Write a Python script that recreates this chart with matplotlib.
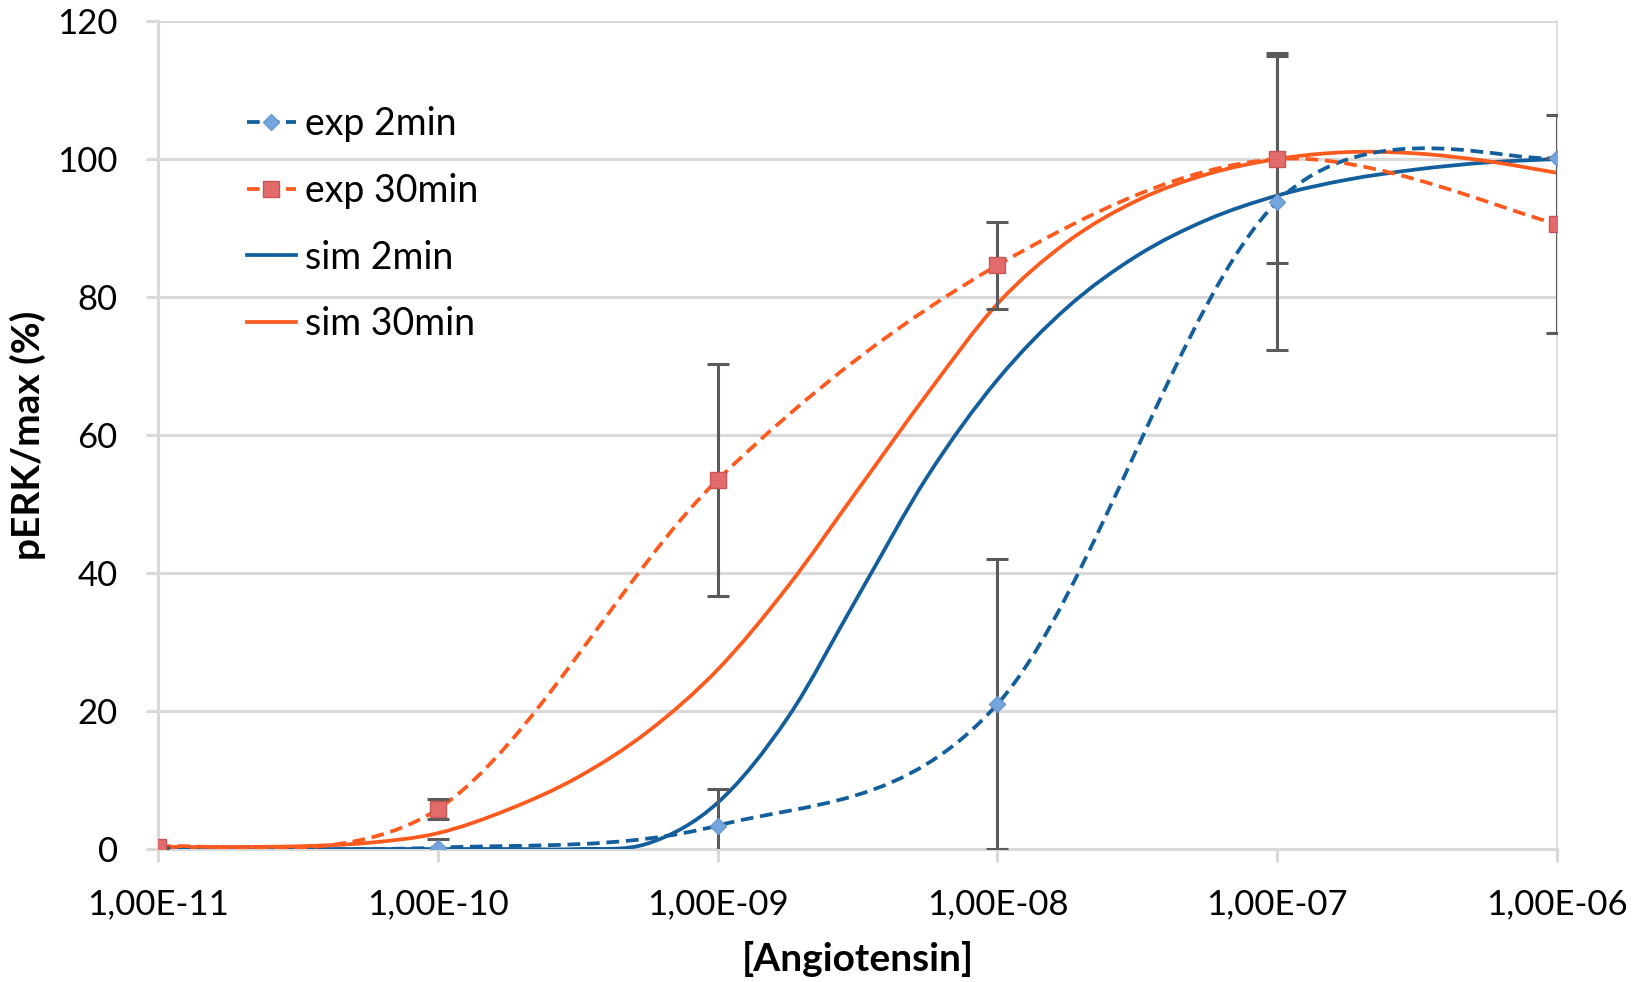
import numpy as np
import matplotlib
matplotlib.use('Agg')
import matplotlib.pyplot as plt
from matplotlib.path import Path
from matplotlib.patches import PathPatch
from matplotlib.lines import Line2D

#-----------------------
# Data
#-----------------------

conc = [1e-11, 1e-10, 1e-9, 1e-8, 1e-7, 1e-6]   # [Angiotensin]
xticklabels = ['1,00E-11', '1,00E-10', '1,00E-09', '1,00E-08', '1,00E-07', '1,00E-06']

exp2  = [0.2, 0.2, 3.4, 21.0, 93.8, 100.2]
exp2_err = [0.0, 1.2, 5.3, 21.0, 21.5, 0.0]
exp30 = [0.3, 5.8, 53.5, 84.6, 100.0, 90.6]
exp30_err = [0.0, 1.4, 16.8, 6.3, 15.0, 15.8]

# simulation, quarter decades 1e-11 ... 1e-6
sim_logx = [-11, -10.75, -10.5, -10.25, -10, -9.75, -9.5, -9.25, -9, -8.75, -8.5,
            -8.25, -8, -7.75, -7.5, -7.25, -7, -6.75, -6.5, -6.25, -6]
sim2  = [0, 0, 0, 0, 0, 0, 0, 0.8, 6.7, 19, 36.5,
         54, 68, 78.5, 86, 91.2, 94.7, 97, 98.5, 99.5, 100]
sim30 = [0.3, 0.3, 0.4, 0.9, 2.3, 5.7, 10.4, 17, 26, 38, 52,
         66, 79, 88, 94, 97.8, 100, 101, 100.8, 99.7, 98]

#-----------------------
# Style
#-----------------------

blue, lblue = '#135e9c', '#74a5dd'
orange, red = '#fd5a1e', '#e36b6b'
gridc = '#d9d9d9'
ebc = '#5a5a5a'
lw = 2.7
dash = (0, (3.4, 1.8))
fs = 25

plt.rcParams['font.family'] = ['Lato', 'DejaVu Sans']

def smooth_path(xs, ys):
    # excel-like smoothed line: cubic bezier through the points (log x space)
    p = np.column_stack([np.log10(xs), ys]).astype(float)
    n = len(p)
    verts, codes = [p[0]], [Path.MOVETO]
    for i in range(n-1):
        p0 = p[i-1] if i > 0 else p[i]
        p3 = p[i+2] if i+2 < n else p[i+1]
        verts += [p[i] + (p[i+1]-p0)/6., p[i+1] - (p3-p[i])/6., p[i+1]]
        codes += [Path.CURVE4]*3
    verts = np.array(verts)
    verts[:, 0] = 10**verts[:, 0]
    return Path(verts, codes)

#-----------------------
# Plot
#-----------------------

fig = plt.figure(figsize=(16.5, 9.82), dpi=100)
ax = fig.add_axes([0.0958, 0.1354, 0.8478, 0.8432])
ax.set_xscale('log')

sim_x = [10**v for v in sim_logx]
ax.add_patch(PathPatch(smooth_path(sim_x, sim2), fill=False, ec=blue, lw=lw, zorder=3))
ax.add_patch(PathPatch(smooth_path(sim_x, sim30), fill=False, ec=orange, lw=lw, zorder=3))
ax.add_patch(PathPatch(smooth_path(conc, exp2), fill=False, ec=blue, lw=lw, ls=dash, zorder=3))
ax.add_patch(PathPatch(smooth_path(conc, exp30), fill=False, ec=orange, lw=lw, ls=dash, zorder=3))

ax.errorbar(conc, exp2, yerr=exp2_err, fmt='none', ecolor=ebc, elinewidth=2.2, capsize=8, capthick=2.2, zorder=4)
ax.errorbar(conc, exp30, yerr=exp30_err, fmt='none', ecolor=ebc, elinewidth=2.2, capsize=8, capthick=2.2, zorder=4)
ax.plot(conc, exp2, ls='none', marker='D', ms=8, mfc=lblue, mec='#6a96cf', mew=1, zorder=5)
ax.plot(conc, exp30, ls='none', marker='s', ms=11, mfc=red, mec='#c85656', mew=1, zorder=5)

### axes
ax.set_xlim(1e-11, 1e-6)
ax.set_ylim(0, 120)
ax.set_xticks(conc)
ax.set_xticklabels(xticklabels)
ax.minorticks_off()
ax.set_yticks(np.arange(0, 121, 20))
ax.yaxis.grid(True, color=gridc, lw=2.2)
ax.set_axisbelow(True)
for s in ['left', 'bottom']:
    ax.spines[s].set_color(gridc); ax.spines[s].set_linewidth(2.2)
ax.spines['top'].set_visible(False)
ax.spines['right'].set_color(gridc); ax.spines['right'].set_linewidth(1.2)
ax.tick_params(axis='both', which='major', labelsize=fs, color=gridc, width=2.2, length=9, direction='out')
ax.tick_params(axis='x', pad=19)
ax.tick_params(axis='y', pad=20)

ax.set_xlabel('[Angiotensin]', fontsize=28, fontweight='bold', labelpad=15)
ax.set_ylabel('pERK/max (%)', fontsize=28, fontweight='bold', labelpad=8)

### legend
handles = [Line2D([], [], color=blue, lw=lw, ls=dash, marker='D', ms=8, mfc=lblue, mec='#6a96cf'),
           Line2D([], [], color=orange, lw=lw, ls=dash, marker='s', ms=11, mfc=red, mec='#c85656'),
           Line2D([], [], color=blue, lw=lw),
           Line2D([], [], color=orange, lw=lw)]
labels = ['exp 2min', 'exp 30min', 'sim 2min', 'sim 30min']
ax.legend(handles, labels, loc='upper left', bbox_to_anchor=(0.05, 0.92), frameon=False,
          fontsize=27, handlelength=1.3, handletextpad=0.25, labelspacing=0.82, borderpad=0)

plt.savefig('out.png', dpi=100)
